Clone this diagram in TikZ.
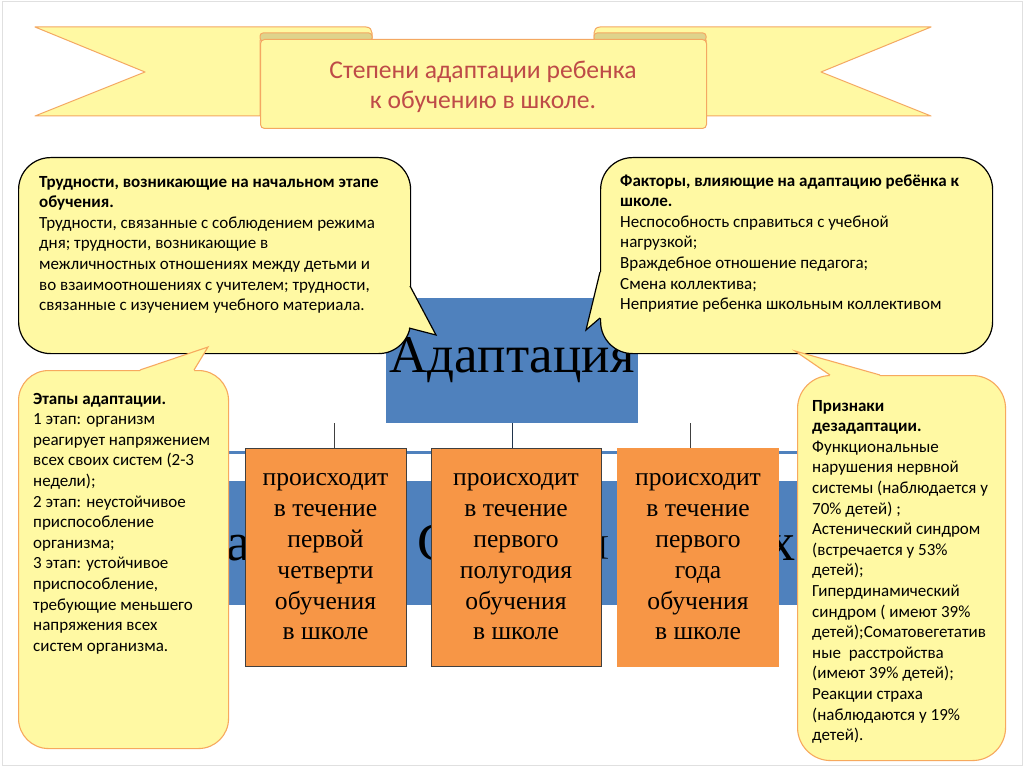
\documentclass[tikz,border=0pt]{standalone}
\usepackage{fontspec}
\setmainfont{Carlito}
\newfontfamily\tnr{Liberation Serif}
\usetikzlibrary{calc}
\definecolor{cfill}{HTML}{FFF9A3}
\definecolor{rfold}{HTML}{DED38C}
\definecolor{rline}{HTML}{F4A862}
\definecolor{obord}{HTML}{F7A95E}
\definecolor{adblue}{HTML}{4F81BD}
\definecolor{orng}{HTML}{F79646}
\definecolor{ttl}{HTML}{BE4B48}
\begin{document}
\begin{tikzpicture}[x=1pt,y=-1pt,
  cbox/.style={draw=black,line width=1.2pt,fill=cfill,rounded corners=32pt,inner sep=0pt,anchor=north west},
  obox/.style={draw=obord,line width=1.1pt,fill=cfill,rounded corners=30pt,inner sep=0pt,anchor=north west},
  ctext/.style={anchor=base west,align=left,inner sep=0pt,font=\fontsize{17}{20.6}\selectfont},
  tailfill/.style={fill=cfill},
  tailA/.style={draw=black,line width=1.2pt,line join=miter},
  tailB/.style={draw=obord,line width=1.1pt,line join=miter},
  ribbon/.style={fill=cfill,draw=rline,line width=1pt,line join=round},
  stage/.style={fill=orng,draw=black!75,line width=0.8pt,minimum width=161pt,minimum height=218pt,inner sep=0pt,align=center,font=\tnr\fontsize{25.6}{30.8}\selectfont},
  frag/.style={inner sep=0pt,font=\tnr\fontsize{54}{60}\selectfont},
  vline/.style={draw=black!75,line width=0.8pt}
]
\useasboundingbox (0,0) rectangle (1024,767);
\fill[white] (0,0) rectangle (1024,767);
\draw[black!12,line width=1pt] (2,2) rectangle (1022,765);

% ---- title banner ----
\filldraw[ribbon] (35,27) -- (366,27) .. controls (370,27) and (372,30) .. (372,33) -- (372,40) -- (260,40) -- (260,116) -- (35,116) -- (145,72) -- cycle;
\filldraw[ribbon] (931,27) -- (600,27) .. controls (596,27) and (594,30) .. (594,33) -- (594,40) -- (706,40) -- (706,116) -- (931,116) -- (821,72) -- cycle;
\filldraw[fill=rfold,draw=rline,line width=1pt,rounded corners=3pt] (260,33) rectangle (372,41);
\filldraw[fill=rfold,draw=rline,line width=1pt,rounded corners=3pt] (594,33) rectangle (706,41);
\node[fill=cfill,draw=rline,line width=1pt,rounded corners=4pt,minimum width=446pt,minimum height=89pt,inner sep=0pt,anchor=north west] (banner) at (260,39) {};
\node[text=ttl,align=center,font=\fontsize{25.6}{30}\selectfont,inner sep=0pt] (title) at (483,87) {Степени адаптации ребенка\\к обучению в школе.};

% ---- central box ----
\node[fill=adblue,minimum width=252pt,minimum height=125pt,inner sep=0pt,font=\tnr\fontsize{53}{60}\selectfont] (adapt) at (512,360.5) {Адаптация};

% ---- blue band behind stages ----
\node[fill=adblue,minimum width=610pt,minimum height=124pt,inner sep=0pt,anchor=north west] (band) at (200,481) {};
\node[frag,anchor=base east] (f1) at (251,560) {ка};
\node[frag,anchor=base west] (f2) at (417,560) {С};
\node[inner sep=0pt,font=\tnr\fontsize{27}{30}\selectfont,anchor=north west] (f3) at (600,537) {[};
\node[frag,anchor=base east] (f4) at (796,560) {х};

\coordinate (h1) at (200,452);
\coordinate (h2) at (810,452);
\draw[adblue,line width=3pt] (h1) -- (h2);

% ---- stages ----
\node[stage] (s1) at (325.5,557) {происходит\\в течение\\первой\\четверти\\обучения\\в школе};
\node[stage,minimum width=170pt] (s2) at (516,557) {происходит\\в течение\\первого\\полугодия\\обучения\\в школе};
\node[stage,draw=orng] (s3) at (698,557) {происходит\\в течение\\первого\\года\\обучения\\в школе};

\coordinate (v1) at (334,448);
\coordinate (v3) at (690,448);
\draw[vline] (adapt.south -| v1) -- (v1);
\draw[vline,draw=black!60!adblue,line width=1pt] (adapt.south) -- (adapt.south |- s2.north);
\draw[vline] (adapt.south -| v3) -- (v3);

% ---- top-left callout ----
\node[cbox,minimum width=392pt,minimum height=196pt] (c1) at (18,157) {};
\fill[tailfill] (410.6,286) -- (436,335) -- (409,328) -- (398,326) -- (398,286) -- cycle;
\draw[tailA] (410,286) -- (436,335) -- (409,328);
\node[ctext] (t1) at (39,310.6) {\textbf{Трудности, возникающие на начальном этапе}\\
\textbf{обучения.}\\
Трудности, связанные с соблюдением режима\\
дня; трудности, возникающие в\\
межличностных отношениях между детьми и\\
во взаимоотношениях с учителем; трудности,\\
связанные с изучением учебного материала.};

% ---- top-right callout ----
\node[cbox,minimum width=392pt,minimum height=196pt] (c2) at (600,157) {};
\fill[tailfill] (599.4,272) -- (586,330) -- (599.4,318) -- (612,318) -- (612,272) -- cycle;
\draw[tailA] (600,272) -- (586,330) -- (600,318);
\node[ctext] (t2) at (620,309.6) {\textbf{Факторы, влияющие на адаптацию ребёнка к}\\
\textbf{школе.}\\
Неспособность справиться с учебной\\
нагрузкой;\\
Враждебное отношение педагога;\\
Смена коллектива;\\
Неприятие ребенка школьным коллективом};

% ---- bottom-left callout ----
\node[obox,minimum width=210pt,minimum height=378pt] (c3) at (18,370) {};
\fill[tailfill] (140,370.6) -- (208,347) -- (194,370.6) -- (194,380) -- (140,380) -- cycle;
\draw[tailB] (140,370) -- (208,347) -- (194,370);
\node[ctext] (t3) at (33,651.2) {\textbf{Этапы адаптации.}\\
1 этап: организм\\
реагирует напряжением\\
всех своих систем (2-3\\
недели);\\
2 этап: неустойчивое\\
приспособление\\
организма;\\
3 этап: устойчивое\\
приспособление,\\
требующие меньшего\\
напряжения всех\\
систем организма.};

% ---- bottom-right callout ----
\node[obox,rounded corners=33pt,minimum width=208pt,minimum height=385pt] (c4) at (797,375) {};
\fill[tailfill] (830,375.6) -- (795,351) -- (880,375.6) -- (880,385) -- (830,385) -- cycle;
\draw[tailB] (830,375) -- (795,351) -- (880,375);
\node[ctext] (t4) at (812,740.6) {\textbf{Признаки}\\
\textbf{дезадаптации.}\\
Функциональные\\
нарушения нервной\\
системы (наблюдается у\\
70\% детей) ;\\
Астенический синдром\\
(встречается у 53\%\\
детей);\\
Гипердинамический\\
синдром ( имеют 39\%\\
детей);Соматовегетатив\\
ные~~расстройства\\
(имеют 39\% детей);\\
Реакции страха\\
(наблюдаются у 19\%\\
детей).};
\end{tikzpicture}
\end{document}
